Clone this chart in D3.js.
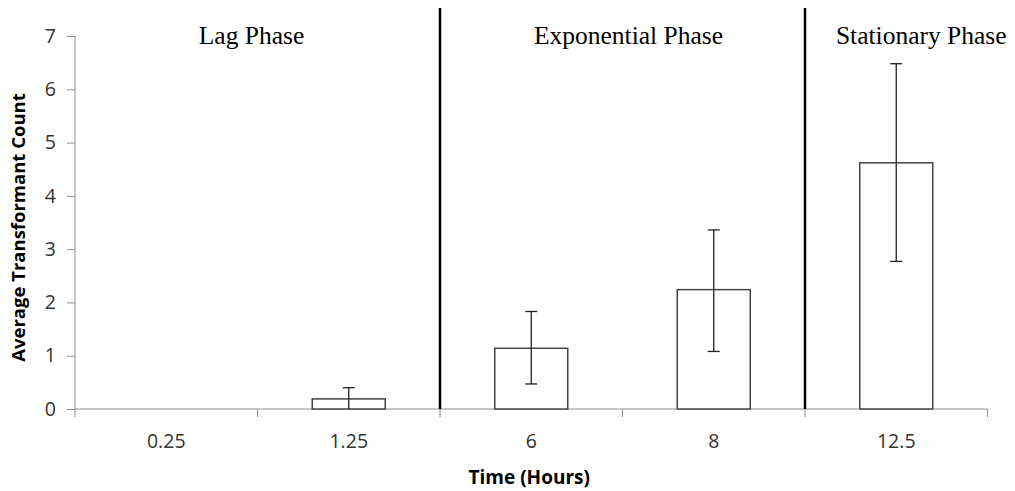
<!DOCTYPE html>
<html><head><meta charset="utf-8">
<script src="https://cdn.jsdelivr.net/npm/d3@7"></script>
<style>body{margin:0;background:#fff}</style>
</head><body>
<svg id="chart" width="1015" height="491"></svg>
<script>
const categories = ["0.25", "1.25", "6", "8", "12.5"];
const means = [0, 0.19, 1.14, 2.24, 4.62];
const errLow = [0, 0, 0.47, 1.08, 2.77];
const errHigh = [0, 0.40, 1.83, 3.36, 6.48];
const yTicks = [0, 1, 2, 3, 4, 5, 6, 7];
const phaseNames = ["Lag Phase", "Exponential Phase", "Stationary Phase"];
const phaseFirst = ["0.25", "6", "12.5"];
const phaseLast = ["1.25", "8", "12.5"];

(function () {
const svg = d3.select("#chart");
const mLeft = 75, mRight = 987.5, mTop = 36, mBottom = 409;
const x = d3.scaleBand().domain(categories).range([mLeft, mRight]).padding(0);
const y = d3.scaleLinear().domain([0, 7]).range([mBottom, mTop]);
const sans = "'Open Sans', 'Liberation Sans', sans-serif";
const serif = "'Liberation Serif', 'Times New Roman', serif";

// y axis
const yAxis = svg.append("g").attr("transform", `translate(${mLeft},0)`)
  .call(d3.axisLeft(y).tickValues(yTicks).tickSize(8).tickPadding(11).tickFormat(d3.format("d")));
yAxis.select(".domain").attr("stroke", "#8c8c8c").attr("d", `M-0,${mTop}V${mBottom}`);
yAxis.selectAll(".tick line").attr("stroke", "#8c8c8c");
yAxis.selectAll("text").attr("font-family", sans).attr("font-size", 19.5).attr("fill", "#333");

// x axis with tick marks at band boundaries
const xg = svg.append("g").attr("transform", `translate(0,${mBottom})`);
xg.append("line").attr("x1", mLeft).attr("x2", mRight).attr("stroke", "#8c8c8c");
const bounds = categories.map(c => x(c)).concat([x(categories[categories.length-1]) + x.bandwidth()]);
xg.selectAll(".xt").data(bounds).join("line")
  .attr("x1", d => d).attr("x2", d => d).attr("y1", 0).attr("y2", 8).attr("stroke", "#8c8c8c");
xg.selectAll(".xl").data(categories).join("text")
  .attr("x", d => x(d) + x.bandwidth()/2).attr("y", 39)
  .attr("text-anchor", "middle").attr("font-family", sans).attr("font-size", 19.5).attr("fill", "#333")
  .text(d => d);

// bars
const bw = x.bandwidth() * 0.4;
svg.selectAll(".bar").data(categories).join("rect")
  .attr("x", d => x(d) + x.bandwidth()/2 - bw/2)
  .attr("y", (d, i) => y(means[i]))
  .attr("width", bw)
  .attr("height", (d, i) => y(0) - y(means[i]))
  .attr("fill", "#fff").attr("stroke", (d, i) => means[i] > 0 ? "#444" : "none").attr("stroke-width", 1.5);

// error bars
const eg = svg.selectAll(".err").data(categories.map((c, i) => ({c, lo: errLow[i], hi: errHigh[i]})).filter(d => d.hi > d.lo))
  .join("g").attr("transform", d => `translate(${x(d.c) + x.bandwidth()/2},0)`);
eg.append("line").attr("y1", d => y(d.lo)).attr("y2", d => y(d.hi)).attr("stroke", "#222").attr("stroke-width", 1.3);
eg.append("line").attr("x1", -6).attr("x2", 6).attr("y1", d => y(d.hi)).attr("y2", d => y(d.hi)).attr("stroke", "#222").attr("stroke-width", 1.3);
eg.filter(d => d.lo > 0).append("line").attr("x1", -6).attr("x2", 6).attr("y1", d => y(d.lo)).attr("y2", d => y(d.lo)).attr("stroke", "#222").attr("stroke-width", 1.3);

// phase dividers
const dividers = phaseLast.slice(0, -1).map(c => x(c) + x.bandwidth());
svg.selectAll(".div").data(dividers).join("line")
  .attr("x1", d => d).attr("x2", d => d).attr("y1", 8).attr("y2", mBottom)
  .attr("stroke", "#000").attr("stroke-width", 2.5);

// phase labels
const labelShift = [-6, 6, 25];
svg.selectAll(".ph").data(phaseNames).join("text")
  .attr("x", (d, i) => (x(phaseFirst[i]) + x(phaseLast[i]) + x.bandwidth())/2 + labelShift[i])
  .attr("y", 44)
  .attr("text-anchor", "middle").attr("font-family", serif).attr("font-size", 25.5).attr("fill", "#000")
  .text(d => d);

// axis titles
svg.append("text").attr("x", (mLeft + mRight)/2 - 2).attr("y", 484)
  .attr("text-anchor", "middle").attr("font-family", sans).attr("font-weight", "bold").attr("font-size", 19).attr("fill", "#000")
  .text("Time (Hours)");
svg.append("text").attr("transform", `translate(25,${(mTop + mBottom)/2 + 5}) rotate(-90)`)
  .attr("text-anchor", "middle").attr("font-family", sans).attr("font-weight", "bold").attr("font-size", 18.5).attr("fill", "#000")
  .text("Average Transformant Count");
})();
</script>
</body></html>
